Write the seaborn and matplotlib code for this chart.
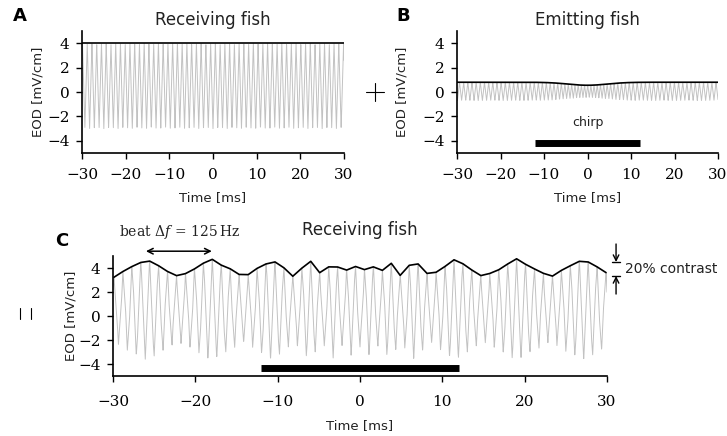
import matplotlib

matplotlib.use("Agg")
import matplotlib.pyplot as plt
from matplotlib.lines import Line2D
import numpy as np
import seaborn as sns

# time axis (ms) and ticks
time_limits = [-30.0, 30.0]
sample_step = 0.02
x_ticks = [-30, -20, -10, 0, 10, 20, 30]
y_ticks = [-4, -2, 0, 2, 4]
y_limits = [-5.0, 5.0]

# receiving fish: EOD peaks at 4 mV/cm, troughs at -3 mV/cm
eodf_receiver = 0.92       # kHz
receiver_offset = 0.5
receiver_amplitude = 3.5
receiver_phase = 0.5       # cycles

# emitting fish: 20% contrast, beat 125 Hz, chirp around t=0
delta_f = 0.125            # kHz
beat_peak_time = -26.0     # ms
emitter_offset = 0.05
emitter_amplitude = 0.75
chirp_time = 0.0
chirp_width = 5.19         # ms
chirp_size = 0.336         # kHz
chirp_amplitude_drop = 0.33
amplitude_width = 4.5      # ms
chirp_bar = [-12.0, 12.0]

beat_arrow = [-26.0, -18.0]
contrast_marks = [4.5, 3.33]

GREY = "#c2c2c2"
TXT = "#222222"


def triangle(cycles):
    d = cycles - np.round(cycles)
    return 1.0 - 4.0 * np.abs(d)


t = np.arange(time_limits[0], time_limits[1] + sample_step / 2, sample_step)
gauss = np.exp(-0.5 * ((t - chirp_time) / chirp_width) ** 2)
gauss_amp = np.exp(-0.5 * ((t - chirp_time) / amplitude_width) ** 2)
df = chirp_size * gauss
chirp_cycles = np.concatenate([[0.0], np.cumsum(0.5 * (df[1:] + df[:-1]) * np.diff(t))])
psi = delta_f * (t - beat_peak_time) + chirp_cycles
rec_cycles = eodf_receiver * t + receiver_phase

receiver = receiver_offset + receiver_amplitude * triangle(rec_cycles)
amp = emitter_amplitude * (1.0 - chirp_amplitude_drop * gauss_amp)
emitter = emitter_offset + amp * triangle(rec_cycles + psi)
total = receiver + emitter

peaks = np.where((total[1:-1] > total[:-2]) & (total[1:-1] >= total[2:]))[0] + 1

sns.set_style("ticks")
plt.rcParams["font.family"] = ["DejaVu Sans"]
plt.rcParams["mathtext.fontset"] = "dejavuserif"

W, H = 727, 436
fig = plt.figure(figsize=(W / 100, H / 100), dpi=100)


def rect(l, tp, r, b):
    return [l / W, 1 - b / H, (r - l) / W, (b - tp) / H]


ax_a = fig.add_axes(rect(82, 31, 344, 153))
ax_b = fig.add_axes(rect(457, 31, 718, 153))
ax_c = fig.add_axes(rect(113, 256, 607, 376))


def style(ax, title, pad, ylab_x, tick_pad, label_pad):
    ax.set_xlim(*time_limits)
    ax.set_ylim(*y_limits)
    ax.set_xticks(x_ticks)
    ax.set_yticks(y_ticks)
    ax.tick_params(direction="out", length=4, width=1.0, colors="black",
                   labelsize=11, pad=5)
    ax.tick_params(axis="x", pad=tick_pad)
    for lab in ax.get_xticklabels() + ax.get_yticklabels():
        lab.set_fontfamily("DejaVu Serif")
    sns.despine(ax=ax)
    for s in ("left", "bottom"):
        ax.spines[s].set_linewidth(1.2)
        ax.spines[s].set_color("black")
    ax.set_xlabel("Time [ms]", fontsize=9.5, color=TXT, labelpad=label_pad)
    ax.set_ylabel("EOD [mV/cm]", fontsize=9.5, color=TXT)
    ax.yaxis.set_label_coords(ylab_x, 0.5)
    ax.set_title(title, fontsize=12, color=TXT, pad=pad)
    ax.patch.set_alpha(0)


# A: receiving fish
sns.lineplot(x=t, y=receiver, ax=ax_a, color=GREY, lw=0.7, estimator=None)
sns.lineplot(x=time_limits, y=[receiver_offset + receiver_amplitude] * 2,
             ax=ax_a, color="black", lw=1.2, estimator=None)
style(ax_a, "Receiving fish", 4, -0.145, 7, 6.5)

# B: emitting fish
sns.lineplot(x=t, y=emitter, ax=ax_b, color=GREY, lw=0.7, estimator=None)
sns.lineplot(x=t, y=emitter_offset + amp, ax=ax_b, color="black", lw=1.2,
             estimator=None)
ax_b.plot(chirp_bar, [-4.2, -4.2], color="black", lw=5, solid_capstyle="butt")
ax_b.text(0, -2.5, "chirp", ha="center", va="center", fontsize=9, color=TXT)
style(ax_b, "Emitting fish", 4, -0.184, 7, 6.5)

# C: sum as seen by the receiver
sns.lineplot(x=t, y=total, ax=ax_c, color=GREY, lw=0.7, estimator=None)
sns.lineplot(x=t[peaks], y=total[peaks], ax=ax_c, color="black", lw=1.2,
             estimator=None)
ax_c.plot(chirp_bar, [-4.3, -4.3], color="black", lw=5, solid_capstyle="butt")
style(ax_c, "Receiving fish", 15, -0.071, 10, 7)

ax_c.annotate("", xy=(beat_arrow[1], 5.4), xytext=(beat_arrow[0], 5.4),
              arrowprops=dict(arrowstyle="<->", lw=1.1, color="black",
                              shrinkA=0, shrinkB=0), annotation_clip=False)
ax_c.text(np.mean(beat_arrow) + 0.1, 7.0, r"beat $\Delta f\,=\,125\,$Hz",
          ha="center", va="center", fontsize=10, color=TXT,
          fontfamily="DejaVu Serif")

xa = 31.1
ax_c.annotate("", xy=(xa, contrast_marks[0]), xytext=(xa, contrast_marks[0] + 1.5),
              arrowprops=dict(arrowstyle="->", lw=1.0, color="black",
                              shrinkA=0, shrinkB=0), annotation_clip=False)
ax_c.annotate("", xy=(xa, contrast_marks[1]), xytext=(xa, contrast_marks[1] - 1.5),
              arrowprops=dict(arrowstyle="->", lw=1.0, color="black",
                              shrinkA=0, shrinkB=0), annotation_clip=False)
for yv in contrast_marks:
    ax_c.plot([xa - 0.5, xa + 0.5], [yv, yv], color="black", lw=1.0, clip_on=False)
ax_c.text(32.2, 3.9, "20% contrast", ha="left", va="center", fontsize=10, color=TXT)

# panel letters and operators
for letter, (px, py) in {"A": (20, 16), "B": (403, 16), "C": (62, 241)}.items():
    fig.text(px / W, 1 - py / H, letter, ha="center", va="center",
             fontsize=13, fontweight="bold", color="black")


def fig_line(xs, ys):
    fig.add_artist(Line2D([x / W for x in xs], [1 - y / H for y in ys],
                          transform=fig.transFigure, color="black", lw=0.8))


fig_line([366, 384], [92, 92])
fig_line([375, 375], [83, 101])
fig_line([20, 20], [308, 319])
fig_line([31, 31], [308, 319])

fig.savefig("out.png", dpi=100, facecolor="white")
